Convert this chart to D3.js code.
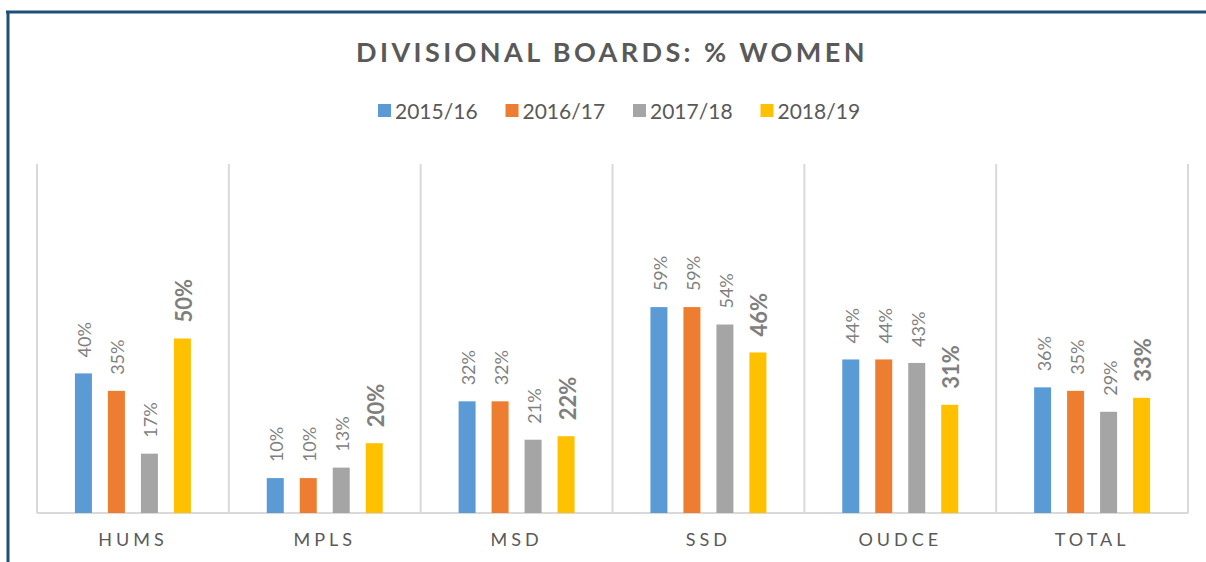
<!DOCTYPE html>
<html>
<head>
<meta charset="utf-8">
<script src="https://cdn.jsdelivr.net/npm/d3@7"></script>
<style>
  body { margin: 0; background: #fff; }
  text { font-family: Lato, "Open Sans", sans-serif; }
</style>
</head>
<body>
<svg id="chart" width="1206" height="562"></svg>
<script>
var categories = ["HUMS", "MPLS", "MSD", "SSD", "OUDCE", "TOTAL"];
var years = ["2015/16", "2016/17", "2017/18", "2018/19"];
var v2015 = [0.40, 0.10, 0.32, 0.59, 0.44, 0.36];
var v2016 = [0.35, 0.10, 0.32, 0.59, 0.44, 0.35];
var v2017 = [0.17, 0.13, 0.21, 0.54, 0.43, 0.29];
var v2018 = [0.50, 0.20, 0.22, 0.46, 0.31, 0.33];
var colors = ["#5b9bd5", "#ed7d31", "#a5a5a5", "#ffc000"];

var series = [v2015, v2016, v2017, v2018];
var rows = [];
categories.forEach(function(c, i) {
  years.forEach(function(yr, j) {
    rows.push({ cat: c, year: yr, value: series[j][i], idx: j });
  });
});

var svg = d3.select("#chart");
var margin = {top: 164, left: 37, right: 18, bottom: 49};
var width = 1206 - margin.left - margin.right,
    height = 562 - margin.top - margin.bottom;

// frame
svg.append("line").attr("x1", 8).attr("x2", 8).attr("y1", 11).attr("y2", 562)
  .attr("stroke", "#1f4e79").attr("stroke-width", 3);
svg.append("line").attr("x1", 6).attr("x2", 1206).attr("y1", 12).attr("y2", 12)
  .attr("stroke", "#1f4e79").attr("stroke-width", 3);

// title
svg.append("text")
  .attr("x", 612).attr("y", 62)
  .attr("text-anchor", "middle")
  .attr("fill", "#595959")
  .style("font-size", "27px")
  .style("font-weight", "bold")
  .style("letter-spacing", "3.4px")
  .text("DIVISIONAL BOARDS: % WOMEN");

// legend
var legend = svg.selectAll(".legend")
  .data(years)
  .enter().append("g")
  .attr("class", "legend")
  .attr("transform", function(d, i) { return "translate(" + (378 + i * 127.5) + ",104)"; });
legend.append("rect").attr("width", 13).attr("height", 13)
  .attr("fill", function(d, i) { return colors[i]; });
legend.append("text").attr("x", 17).attr("y", 15)
  .attr("fill", "#595959").style("font-size", "21px")
  .text(function(d) { return d; });

var g = svg.append("g").attr("transform", "translate(" + margin.left + "," + margin.top + ")");

var x = d3.scaleBand().domain(categories).range([0, width]);
var x1 = d3.scaleBand().domain(years).range([0, x.bandwidth()])
  .paddingInner(0.485).paddingOuter(1.15);
var y = d3.scaleLinear().domain([0, 1]).range([height, 0]);

// vertical separators
g.selectAll(".sep")
  .data(categories.concat(["end"]))
  .enter().append("line")
  .attr("x1", function(d, i) { return i * x.bandwidth(); })
  .attr("x2", function(d, i) { return i * x.bandwidth(); })
  .attr("y1", 0).attr("y2", height)
  .attr("stroke", "#d9d9d9").attr("stroke-width", 2);

g.append("line").attr("x1", 0).attr("x2", width).attr("y1", height).attr("y2", height)
  .attr("stroke", "#d9d9d9").attr("stroke-width", 2);

// bars
g.selectAll(".bar")
  .data(rows)
  .enter().append("rect")
  .attr("class", "bar")
  .attr("x", function(d) { return x(d.cat) + x1(d.year); })
  .attr("y", function(d) { return y(d.value); })
  .attr("width", x1.bandwidth())
  .attr("height", function(d) { return height - y(d.value); })
  .attr("fill", function(d) { return colors[d.idx]; });

// labels
g.selectAll(".lbl")
  .data(rows)
  .enter().append("text")
  .attr("class", "lbl")
  .attr("transform", function(d) {
    var cx = x(d.cat) + x1(d.year) + x1.bandwidth() / 2 + 1;
    return "translate(" + cx + "," + (y(d.value) - 16) + ") rotate(-90)";
  })
  .attr("dominant-baseline", "central")
  .attr("fill", "#7f7f7f")
  .style("font-size", function(d) { return d.idx === 3 ? "22px" : "18px"; })
  .style("font-weight", function(d) { return d.idx === 3 ? "bold" : "normal"; })
  .text(function(d) { return Math.round(d.value * 100) + "%"; });

// category axis
var xAxis = g.append("g")
  .attr("transform", "translate(0," + height + ")")
  .call(d3.axisBottom(x).tickSize(0).tickPadding(20));
xAxis.select(".domain").remove();
xAxis.selectAll("text")
  .attr("fill", "#595959")
  .style("font-size", "18px")
  .style("letter-spacing", "4px")
  .style("font-family", "Lato, sans-serif");
</script>
</body>
</html>
